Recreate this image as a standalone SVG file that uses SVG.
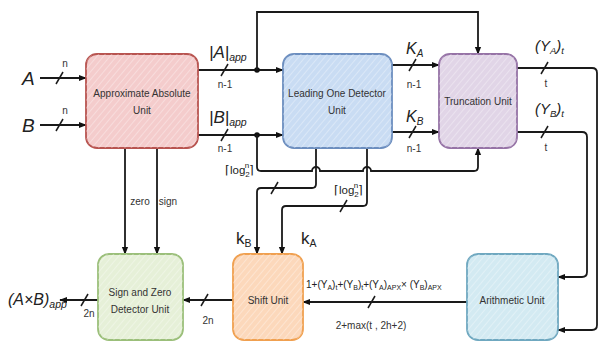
<svg xmlns="http://www.w3.org/2000/svg" width="605" height="346" viewBox="0 0 605 346">
<defs>
<pattern id="hatch" patternUnits="userSpaceOnUse" width="5" height="5" patternTransform="rotate(40)">
<rect width="5" height="5" fill="none"/>
<line x1="0" y1="0" x2="0" y2="5" stroke="#ffffff" stroke-opacity="0.4" stroke-width="1.6"/>
</pattern>
<marker id="arr" viewBox="0 0 10 10" refX="9" refY="5" markerWidth="8" markerHeight="8" orient="auto-start-reverse" markerUnits="userSpaceOnUse">
<path d="M0,1 L10,5 L0,9 z" fill="#111"/>
</marker>
</defs>
<style>
.w{fill:none;stroke:#1a1a1a;stroke-width:1.8}
.sl{stroke:#1a1a1a;stroke-width:1.5}
.bx{stroke-width:1.8}
.t{font-family:"Liberation Sans",Arial,sans-serif;font-size:10px;fill:#333;text-anchor:middle}
.s{font-family:"Liberation Sans",Arial,sans-serif;font-size:10px;fill:#333;text-anchor:middle}
.i{font-family:"Liberation Sans",Arial,sans-serif;font-style:italic;fill:#222}
.k{font-family:"Liberation Sans",Arial,sans-serif;fill:#222}
</style>
<rect width="605" height="346" fill="#fff"/>

<g id="connectors">
<line class="w" x1="40" y1="78" x2="86" y2="78" marker-end="url(#arr)"/>
<line class="sl" x1="56" y1="84" x2="63" y2="72"/>
<line class="w" x1="40" y1="125" x2="86" y2="125" marker-end="url(#arr)"/>
<line class="sl" x1="56" y1="131" x2="63" y2="119"/>
<line class="w" x1="198" y1="70" x2="283" y2="70" marker-end="url(#arr)"/>
<line class="sl" x1="221" y1="76" x2="228" y2="64"/>
<circle cx="257" cy="70" r="2.8" fill="#111"/>
<path class="w" d="M257,70 V12 H478 V54" marker-end="url(#arr)"/>
<line class="w" x1="198" y1="135" x2="283" y2="135" marker-end="url(#arr)"/>
<line class="sl" x1="221" y1="141" x2="228" y2="129"/>
<circle cx="257" cy="135" r="2.8" fill="#111"/>
<path class="w" d="M257,135 V167 Q257,171 261,171 H312 A4,4 0 0 1 320,171 H363 A4,4 0 0 1 371,171 H474 Q478,171 478,167 V148" marker-end="url(#arr)"/>
<line class="w" x1="392" y1="65" x2="439" y2="65" marker-end="url(#arr)"/>
<line class="sl" x1="409" y1="71" x2="416" y2="59"/>
<line class="w" x1="392" y1="132" x2="439" y2="132" marker-end="url(#arr)"/>
<line class="sl" x1="409" y1="138" x2="416" y2="126"/>
<path class="w" d="M517,68 H592 Q597,68 597,73 V325 Q597,330 592,330 H558" marker-end="url(#arr)"/>
<line class="sl" x1="541" y1="74" x2="548" y2="62"/>
<path class="w" d="M517,132 H582 Q587,132 587,137 V272 Q587,277 582,277 H558" marker-end="url(#arr)"/>
<line class="sl" x1="541" y1="138" x2="548" y2="126"/>
<path class="w" d="M316,148 V184 Q316,188 312,188 H261 Q257,188 257,192 V254" marker-end="url(#arr)"/>
<line class="sl" x1="271" y1="194" x2="278" y2="182"/>
<path class="w" d="M367,148 V202 Q367,206 363,206 H286 Q282,206 282,210 V254" marker-end="url(#arr)"/>
<line class="sl" x1="340" y1="212" x2="347" y2="200"/>
<line class="w" x1="125" y1="148" x2="125" y2="254" marker-end="url(#arr)"/>
<line class="w" x1="157" y1="148" x2="157" y2="254" marker-end="url(#arr)"/>
<line class="w" x1="467" y1="302" x2="303" y2="302" marker-end="url(#arr)"/>
<line class="sl" x1="368" y1="308" x2="375" y2="296"/>
<line class="w" x1="233" y1="300" x2="183" y2="300" marker-end="url(#arr)"/>
<line class="sl" x1="201" y1="306" x2="208" y2="294"/>
<line class="w" x1="98" y1="300" x2="60" y2="300" marker-end="url(#arr)"/>
<line class="sl" x1="81" y1="306" x2="88" y2="294"/>
</g>

<g id="labels">
<text class="i" x="22" y="85" font-size="19">A</text>
<text class="i" x="22" y="132" font-size="19">B</text>
<text class="s" x="65" y="67">n</text>
<text class="s" x="65" y="114">n</text>
<text class="i" x="209" y="58" font-size="17">|A|<tspan font-size="10.5" dy="3">app</tspan></text>
<text class="s" x="225" y="88">n-1</text>
<text class="i" x="209" y="123" font-size="17">|B|<tspan font-size="10.5" dy="3">app</tspan></text>
<text class="s" x="225" y="152">n-1</text>
<text class="i" x="406" y="54" font-size="16">K<tspan font-size="10" dy="3">A</tspan></text>
<text class="s" x="414" y="88">n-1</text>
<text class="i" x="406" y="122" font-size="16">K<tspan font-size="10" dy="3">B</tspan></text>
<text class="s" x="414" y="152">n-1</text>
<text class="i" x="535" y="51" font-size="15">(Y<tspan font-size="9.5" dy="3">A</tspan><tspan dy="-3">)</tspan><tspan font-size="9.5" dy="3">t</tspan></text>
<text class="s" x="546" y="87">t</text>
<text class="i" x="535" y="114" font-size="15">(Y<tspan font-size="9.5" dy="3">B</tspan><tspan dy="-3">)</tspan><tspan font-size="9.5" dy="3">t</tspan></text>
<text class="s" x="546" y="151">t</text>
<text class="k" x="225" y="174" font-size="11.5">⌈log<tspan font-size="8" dy="3">2</tspan><tspan font-size="8" dx="-5" dy="-9">n</tspan><tspan dy="6">⌉</tspan></text>
<text class="k" x="334" y="194" font-size="11.5">⌈log<tspan font-size="8" dy="3">2</tspan><tspan font-size="8" dx="-5" dy="-9">n</tspan><tspan dy="6">⌉</tspan></text>
<text class="k" x="236" y="244" font-size="17">k<tspan font-size="10.5" dy="3">B</tspan></text>
<text class="k" x="301" y="244" font-size="17">k<tspan font-size="10.5" dy="3">A</tspan></text>
<text class="s" x="140" y="205">zero</text>
<text class="s" x="168" y="205">sign</text>
<text class="k" x="306" y="288" font-size="10">1+(Y<tspan font-size="7" dy="2">A</tspan><tspan dy="-2">)</tspan><tspan font-size="7" dy="2">t</tspan><tspan dy="-2">+(Y</tspan><tspan font-size="7" dy="2">B</tspan><tspan dy="-2">)</tspan><tspan font-size="7" dy="2">t</tspan><tspan dy="-2">+(Y</tspan><tspan font-size="7" dy="2">A</tspan><tspan dy="-2">)</tspan><tspan font-size="7" dy="2">APX</tspan><tspan dy="-2">× (Y</tspan><tspan font-size="7" dy="2">B</tspan><tspan dy="-2">)</tspan><tspan font-size="7" dy="2">APX</tspan></text>
<text class="t" x="371" y="329" font-size="10.5">2+max(t , 2h+2)</text>
<text class="s" x="208" y="324">2n</text>
<text class="s" x="89" y="317">2n</text>
<text class="i" x="8" y="305" font-size="16">(A×B)<tspan font-size="10.5" dy="3">app</tspan></text>
</g>

<g id="aau">
<rect class="bx" x="86" y="54" width="112" height="94" rx="11" fill="#f4cccc" stroke="#b85450"/>
<rect x="86" y="54" width="112" height="94" rx="11" fill="url(#hatch)"/>
<text class="t" x="142" y="97">Approximate Absolute</text>
<text class="t" x="142" y="114">Unit</text>
</g>
<g id="lod">
<rect class="bx" x="283" y="54" width="109" height="94" rx="11" fill="#c9dcf3" stroke="#6c8ebf"/>
<rect x="283" y="54" width="109" height="94" rx="11" fill="url(#hatch)"/>
<text class="t" x="337" y="97">Leading One Detector</text>
<text class="t" x="337" y="114">Unit</text>
</g>
<g id="trunc">
<rect class="bx" x="439" y="54" width="78" height="94" rx="11" fill="#e1d5e7" stroke="#9673a6"/>
<rect x="439" y="54" width="78" height="94" rx="11" fill="url(#hatch)"/>
<text class="t" x="478" y="105">Truncation Unit</text>
</g>
<g id="signzero">
<rect class="bx" x="98" y="254" width="85" height="86" rx="11" fill="#e6f0d8" stroke="#9bbf7a"/>
<rect x="98" y="254" width="85" height="86" rx="11" fill="url(#hatch)"/>
<text class="t" x="140" y="296">Sign and Zero</text>
<text class="t" x="140" y="313">Detector Unit</text>
</g>
<g id="shift">
<rect class="bx" x="233" y="254" width="70" height="86" rx="11" fill="#fcd8bb" stroke="#f0a050"/>
<rect x="233" y="254" width="70" height="86" rx="11" fill="url(#hatch)"/>
<text class="t" x="268" y="304">Shift Unit</text>
</g>
<g id="arith">
<rect class="bx" x="467" y="254" width="91" height="86" rx="11" fill="#d3eaf2" stroke="#6fa8c0"/>
<rect x="467" y="254" width="91" height="86" rx="11" fill="url(#hatch)"/>
<text class="t" x="512" y="304">Arithmetic Unit</text>
</g>
</svg>
